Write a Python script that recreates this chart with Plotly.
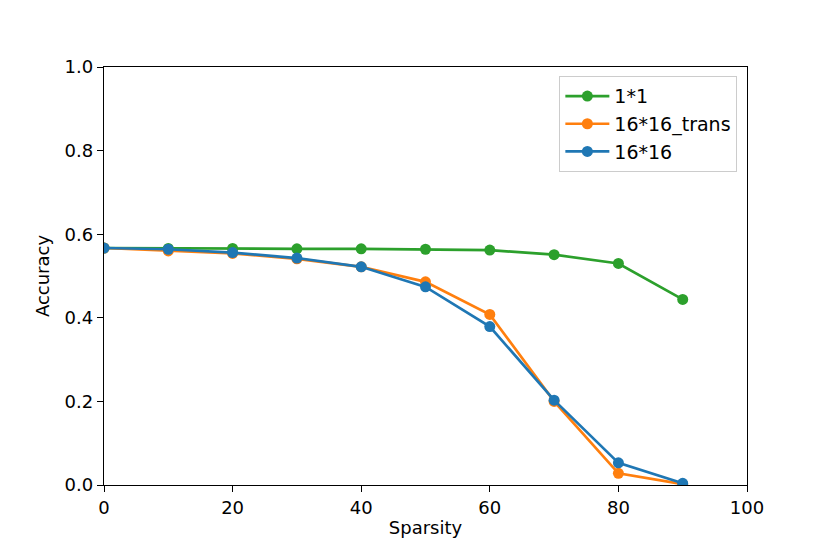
import plotly.graph_objects as go

sparsity = [0, 10, 20, 30, 40, 50, 60, 70, 80, 90]
acc_1x1 = [0.567, 0.566, 0.566, 0.565, 0.565, 0.564, 0.562, 0.551, 0.530, 0.444]
acc_16x16_trans = [0.567, 0.560, 0.554, 0.541, 0.522, 0.486, 0.408, 0.200, 0.028, 0.002]
acc_16x16 = [0.567, 0.564, 0.556, 0.543, 0.522, 0.474, 0.379, 0.203, 0.053, 0.004]

series = [
    ("1*1", acc_1x1, "#2ca02c"),
    ("16*16_trans", acc_16x16_trans, "#ff7f0e"),
    ("16*16", acc_16x16, "#1f77b4"),
]

fig = go.Figure()
for name, vals, color in series:
    fig.add_trace(go.Scatter(
        x=sparsity, y=vals, name=name, mode="lines+markers",
        line=dict(color=color, width=2.7),
        marker=dict(color=color, size=11),
    ))

axis_style = dict(
    showline=True, linecolor="black", linewidth=1.4, mirror=True,
    ticks="outside", ticklen=6, tickwidth=1.4, tickcolor="black",
    showgrid=False, zeroline=False,
    tickfont=dict(size=18, color="black"),
    title_font=dict(size=18, color="black"),
)

# page sits 8px in from the window edge, so the figure is trimmed by 8px
fig.update_layout(
    width=822, height=546,
    margin=dict(l=96, r=83, t=59, b=69),
    paper_bgcolor="white", plot_bgcolor="white",
    font=dict(family="DejaVu Sans", size=18, color="black"),
    xaxis=dict(range=[0, 100], dtick=20, title=dict(text="Sparsity", standoff=4), **axis_style),
    yaxis=dict(range=[0, 1], dtick=0.2, tickformat=".1f", title=dict(text="Accuracy", standoff=10), **axis_style),
    legend=dict(
        x=0.985, y=0.978, xanchor="right", yanchor="top",
        bordercolor="#cccccc", borderwidth=1, bgcolor="rgba(255,255,255,0.8)",
        font=dict(size=19), tracegroupgap=3, itemwidth=44,
    ),
)

fig.write_html("out.html")
